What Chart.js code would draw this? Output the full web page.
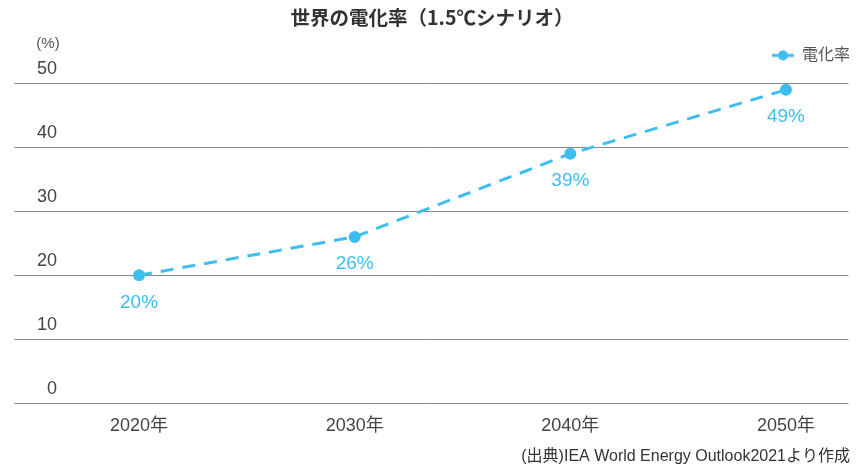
<!DOCTYPE html>
<html lang="ja">
<head>
<meta charset="utf-8">
<script src="https://cdn.jsdelivr.net/npm/chart.js@4/dist/chart.umd.min.js"></script>
<style>
  html, body { margin: 0; padding: 0; background: #fff; }
  #wrap { width: 856px; height: 467px; }
</style>
</head>
<body>
<div id="wrap"><canvas id="lineChart"></canvas></div>
<script>
// 世界の電化率（1.5℃シナリオ）
const years = [2020, 2030, 2040, 2050];
const rates = [20, 26, 39, 49];
const yTicks = [0, 10, 20, 30, 40, 50];

const FONT = "'Liberation Sans', 'Noto Sans CJK JP', sans-serif";
const JFONT = "'Noto Sans CJK JP', sans-serif";
const BLUE = "#3dbdf0";

// legend icon: short line with a dot
const icon = document.createElement("canvas");
icon.width = 22;
icon.height = 12;
const ic = icon.getContext("2d");
ic.strokeStyle = BLUE;
ic.lineWidth = 3;
ic.beginPath();
ic.moveTo(0, 6);
ic.lineTo(22, 6);
ic.stroke();
ic.fillStyle = BLUE;
ic.beginPath();
ic.arc(11, 6, 5, 0, Math.PI * 2);
ic.fill();

// value labels below points + unit label, legend tweaks
const extras = {
  id: "extras",
  beforeInit(chart) {
    const fit = chart.legend.fit;
    chart.legend.fit = function () {
      fit.call(this);
      this.height += 10;
    };
  },
  afterLayout(chart) {
    chart.legend.left += 14;
    chart.legend.right += 14;
  },
  afterDatasetsDraw(chart) {
    const c = chart.ctx;
    const meta = chart.getDatasetMeta(0);
    c.save();
    c.fillStyle = BLUE;
    c.font = "19px " + FONT;
    c.textAlign = "center";
    c.textBaseline = "middle";
    meta.data.forEach((pt, i) => {
      c.fillText(rates[i] + "%", pt.x, pt.y + 27);
    });
    c.fillStyle = "#555";
    c.font = "15px " + FONT;
    c.fillText("(%)", 48, 44);
    c.restore();
  },
};

const ctx = document.getElementById("lineChart").getContext("2d");
new Chart(ctx, {
  type: "line",
  data: {
    datasets: [
      {
        label: "電化率",
        data: years.map((y, i) => ({ x: y, y: rates[i] })),
        borderColor: BLUE,
        backgroundColor: BLUE,
        borderWidth: 3,
        borderDash: [13, 9],
        pointRadius: 4.5,
        pointHoverRadius: 4.5,
        tension: 0,
      },
    ],
  },
  options: {
    responsive: true,
    maintainAspectRatio: false,
    animation: false,
    layout: { padding: { left: 14, right: 6, top: 0, bottom: 1 } },
    plugins: {
      title: {
        display: true,
        text: "世界の電化率（1.5℃シナリオ）",
        color: "#333",
        font: { family: JFONT, size: 19.5, weight: "bold" },
        padding: { top: 6, bottom: 4 },
      },
      subtitle: {
        display: true,
        position: "bottom",
        align: "end",
        text: "(出典)IEA World Energy Outlook2021より作成",
        color: "#333",
        font: { family: FONT, size: 16 },
        padding: { top: -2, bottom: 0 },
      },
      legend: {
        position: "top",
        align: "end",
        labels: {
          usePointStyle: true,
          pointStyle: icon,
          pointStyleWidth: 22,
          boxHeight: 12,
          color: "#555",
          font: { family: FONT, size: 16 },
          padding: 14,
        },
      },
      tooltip: { enabled: false },
    },
    scales: {
      x: {
        type: "linear",
        min: 2014.2,
        max: 2052.9,
        afterBuildTicks: (axis) => {
          axis.ticks = years.map((v) => ({ value: v }));
        },
        grid: { display: false, drawTicks: false },
        border: { display: false },
        ticks: {
          callback: (v) => v + "年",
          color: "#444",
          padding: 12,
          font: { family: FONT, size: 18 },
        },
      },
      y: {
        min: 0,
        max: 50,
        afterBuildTicks: (axis) => {
          axis.ticks = yTicks.map((v) => ({ value: v }));
        },
        afterFit: (axis) => {
          axis.width = 0;
        },
        grid: { color: "#8a8a8a", lineWidth: 1, drawTicks: false },
        border: { display: false },
        ticks: {
          mirror: true,
          crossAlign: "far",
          padding: 23,
          labelOffset: -14,
          color: "#444",
          font: { family: FONT, size: 18 },
        },
      },
    },
  },
  plugins: [extras],
});
</script>
</body>
</html>
